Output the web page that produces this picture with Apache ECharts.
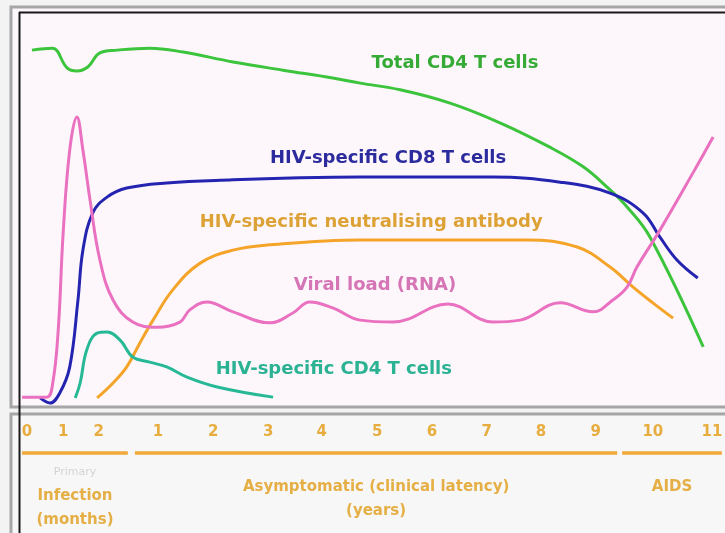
<!DOCTYPE html>
<html><head><meta charset="utf-8">
<script src="https://cdn.jsdelivr.net/npm/echarts@6/dist/echarts.min.js"></script>
<style>html,body{margin:0;padding:0;background:#f3f3f3;}#c{width:725px;height:533px;}</style>
</head><body><div id="c"></div>
<script>
// timeline position: 0 = month 0, one unit = one year-tick gap of the schematic
var totalCD4 = [[0.09,90.3],[0.46,90.8],[0.73,85.8],[0.91,85.0],[1.11,86.0],[1.33,89.6],[1.64,90.3],[2.24,90.8],[2.85,89.8],[3.76,87.3],[4.67,85.2],[5.58,83.2],[6.08,81.9],[6.81,80.2],[7.72,76.8],[8.63,71.8],[9.54,65.6],[10.15,60.6],[10.58,55.5],[10.95,50.4],[11.37,42.7],[12.34,14.8]];
var cd8 = [[0.24,1.8],[0.42,0.5],[0.60,3.1],[0.78,9.7],[0.93,26.7],[1.02,39.4],[1.20,48.9],[1.46,52.9],[1.82,55.2],[2.55,56.5],[3.76,57.3],[4.98,57.8],[6.08,58.0],[8.50,58.0],[9.73,56.7],[10.64,53.9],[11.24,48.9],[11.55,42.7],[11.86,36.9],[12.24,32.3]];
var antibody = [[1.28,1.8],[1.57,5.6],[1.82,9.7],[2.06,15.8],[2.30,21.6],[2.66,29.3],[3.16,36.1],[3.76,39.4],[4.38,40.7],[6.08,42.0],[9.12,42.0],[10.04,40.2],[10.64,35.1],[11.06,30.0],[11.42,26.0],[11.79,22.1]];
var viralLoad = [[-0.09,2.0],[0.36,2.0],[0.47,5.6],[0.57,19.1],[0.66,43.8],[0.78,64.9],[0.91,73.3],[1.02,64.9],[1.15,52.2],[1.33,36.9],[1.57,26.7],[1.93,21.1],[2.37,19.8],[2.79,21.1],[2.97,24.2],[3.28,26.2],[3.76,23.7],[4.43,20.9],[4.85,23.4],[5.16,26.2],[5.58,24.7],[6.08,21.6],[6.68,21.1],[7.68,25.7],[8.50,21.1],[9.00,21.6],[9.73,26.0],[10.33,23.7],[10.69,26.7],[10.95,30.0],[11.13,35.1],[11.55,44.5],[12.15,59.0],[12.52,68.2]];
var specCD4 = [[0.88,1.8],[0.97,5.6],[1.09,14.0],[1.28,18.3],[1.46,18.6],[1.70,16.5],[1.93,12.2],[2.24,10.9],[2.55,9.7],[2.92,7.1],[3.47,4.6],[4.49,2.0]];

var tickLabels = ['0','1','2','1','2','3','4','5','6','7','8','9','10','11'];
var tickPositions = [0,0.66,1.31,2.39,3.40,4.40,5.38,6.39,7.39,8.39,9.38,10.38,11.42,12.50];
var phaseNames = ['Infection\n(months)','Asymptomatic (clinical latency)\n(years)','AIDS'];
var phaseRanges = [[-0.09,1.84],[1.97,10.77],[10.86,12.68]];
var phaseRows = [9.5,8.65,7.4];

var chart = echarts.init(document.getElementById('c'));
var FONT = 'DejaVu Sans';
function curve(name, data, color, lab, labColor, anchor){
  return {type:'line', name:name, data:data, smooth:0.4, symbol:'none', xAxisIndex:0, yAxisIndex:0,
    lineStyle:{color:color, width:3}, z:3,
    markPoint:{symbol:'circle', symbolSize:0, silent:true, animation:false,
      label:{show:true, formatter:lab, color:labColor, fontFamily:FONT, fontWeight:'bold', fontSize:18, position:'inside'},
      data:[{coord:anchor}]}};
}
var tickData = tickPositions.map(function(p,i){return {value:[p,1.9], name:tickLabels[i]};});
var phaseCenters = phaseRanges.map(function(r){return (r[0]+r[1])/2;});
var phaseData = phaseNames.map(function(n,i){return {value:[phaseCenters[i], phaseRows[i]], name:n};});
var underline = [];
phaseRanges.forEach(function(r){ underline.push([r[0],4]); underline.push([r[1],4]); underline.push(null); });

var option = {
  animation:false,
  graphic:[
    {type:'rect', z:-10, shape:{x:11,y:7,width:720,height:400}, style:{fill:'#fdf7fc', stroke:'#a6a6a6', lineWidth:3}},
    {type:'rect', z:-10, shape:{x:11,y:414,width:720,height:130}, style:{fill:'#f7f7f7', stroke:'#a6a6a6', lineWidth:3}},
    {type:'text', z:5, style:{x:75, y:472, text:'Primary', fill:'#d4d4d4', font:'11px "DejaVu Sans"', textAlign:'center', textVerticalAlign:'middle'}},
    {type:'line', z:100, shape:{x1:19.5,y1:12,x2:19.5,y2:533}, style:{stroke:'#1a1a1a', lineWidth:2}},
    {type:'line', z:100, shape:{x1:19,y1:12.5,x2:725,y2:12.5}, style:{stroke:'#1a1a1a', lineWidth:2}}
  ],
  grid:[{left:20, top:12, width:705, height:393}, {left:20, top:413, width:705, height:120}],
  xAxis:[
    {type:'value', gridIndex:0, min:-0.1277, max:12.737, show:false},
    {type:'value', gridIndex:1, min:-0.1277, max:12.737, show:false}
  ],
  yAxis:[
    {type:'value', gridIndex:0, min:0, max:100, show:false},
    {type:'value', gridIndex:1, min:0, max:12, inverse:true, show:false}
  ],
  series:[
    curve('Total CD4 T cells', totalCD4, '#3cc43c', 'Total CD4 T cells', '#35ab35', [7.81,87.0]),
    curve('HIV-specific CD8 T cells', cd8, '#2424b0', 'HIV-specific CD8 T cells', '#2b2b9e', [6.59,62.8]),
    curve('HIV-specific neutralising antibody', antibody, '#f5a42a', 'HIV-specific neutralising antibody', '#dca235', [6.28,46.6]),
    curve('Viral load (RNA)', viralLoad, '#ea70c0', 'Viral load (RNA)', '#d675b6', [6.35,30.5]),
    curve('HIV-specific CD4 T cells', specCD4, '#27b996', 'HIV-specific CD4 T cells', '#2ab293', [5.60,9.2]),
    {type:'scatter', xAxisIndex:1, yAxisIndex:1, data:tickData, symbolSize:0, silent:true,
      label:{show:true, position:'inside', formatter:'{b}', color:'#e39a10', fontFamily:FONT, fontWeight:'bold', fontSize:15}},
    {type:'line', xAxisIndex:1, yAxisIndex:1, data:underline, symbol:'none', connectNulls:false, silent:true,
      lineStyle:{color:'#f0a93a', width:3.5}},
    {type:'scatter', xAxisIndex:1, yAxisIndex:1, data:phaseData, symbolSize:0, silent:true,
      label:{show:true, position:'inside', formatter:'{b}', color:'#e09c18', fontFamily:FONT, fontWeight:'bold', fontSize:15, lineHeight:24, align:'center'}}
  ]
};
chart.setOption(option);
</script></body></html>
